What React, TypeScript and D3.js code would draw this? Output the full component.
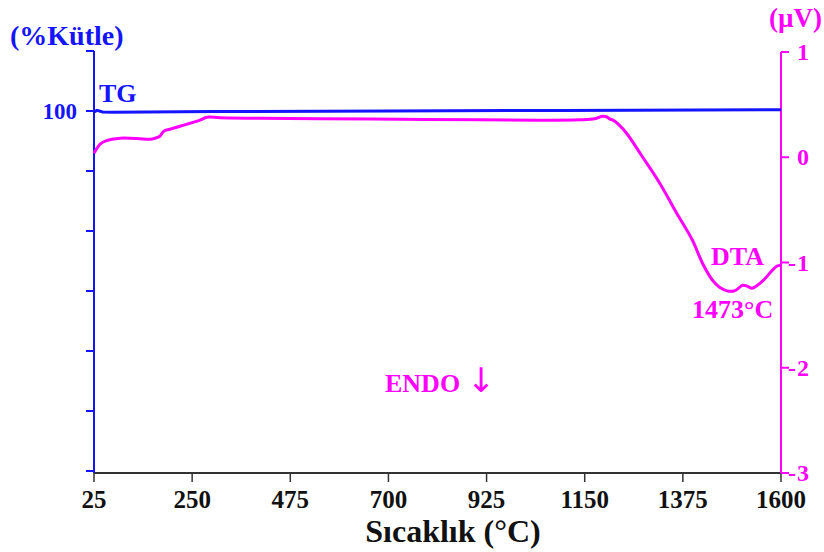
import React from "react";
import * as d3 from "d3";

const xTicks = [25, 250, 475, 700, 925, 1150, 1375, 1600];
const leftTicks = [88, 90, 92, 94, 96, 98, 100, 102];
const leftLabelled = [100];
const rightTicks = [1, 0, -1, -2, -3];

const tgTemp = [25, 32, 45, 70, 300, 700, 1100, 1600];
const tgMass = [99.97, 100.02, 99.97, 99.96, 99.98, 100.0, 100.02, 100.04];

const dtaTemp = [25, 32, 39, 50, 66, 85, 107, 130, 153, 165, 176, 185, 199, 222, 245, 268, 284, 314, 405, 543, 726, 909, 1047, 1139, 1173, 1191, 1200, 1207, 1216, 1228, 1246, 1283, 1322, 1361, 1397, 1420, 1443, 1459, 1480, 1496, 1512, 1523, 1533, 1546, 1562, 1578, 1590, 1599];
const dtaVal = [0.038, 0.086, 0.124, 0.152, 0.171, 0.181, 0.181, 0.176, 0.171, 0.181, 0.2, 0.247, 0.266, 0.295, 0.323, 0.352, 0.38, 0.375, 0.37, 0.366, 0.361, 0.356, 0.352, 0.356, 0.366, 0.39, 0.385, 0.365, 0.35, 0.31, 0.228, 0.0, -0.247, -0.532, -0.789, -1.007, -1.169, -1.235, -1.273, -1.264, -1.216, -1.226, -1.245, -1.216, -1.159, -1.083, -1.036, -1.026];

const BLUE = "#1414ff";
const MAG = "#ff00ff";
const FONT = "'Liberation Serif', 'Times New Roman', serif";

export default function App() {
  const x = d3.scaleLinear().domain([25, 1600]).range([94, 781]);
  const yL = d3.scaleLinear().domain([88, 102]).range([471, 51]);
  const yR = d3.scaleLinear().domain([-3, 1]).range([473, 52]);

  const tgLine = d3.line<number>().x((_, i) => x(tgTemp[i])).y((d) => yL(d)).curve(d3.curveLinear);
  const dtaLine = d3.line<number>().x((_, i) => x(dtaTemp[i])).y((d) => yR(d)).curve(d3.curveCatmullRom);

  const axisY = 473;
  return (
    <svg width={824} height={552} style={{ position: "absolute", left: 0, top: 0, background: "#fff" }} fontFamily={FONT} fontWeight="bold">
      {/* x axis */}
      <line x1={94} x2={781} y1={axisY} y2={axisY} stroke="#333" strokeWidth={2} />
      {xTicks.map((t) => (
        <g key={t}>
          <line x1={x(t)} x2={x(t)} y1={axisY} y2={axisY + 9} stroke="#333" strokeWidth={1.5} />
          <text x={x(t)} y={508} textAnchor="middle" fontSize={25} fill="#111">{t}</text>
        </g>
      ))}
      <text x={453} y={542} textAnchor="middle" fontSize={32} fill="#111">Sıcaklık (°C)</text>

      {/* left axis */}
      <line x1={94} x2={94} y1={51} y2={axisY} stroke={BLUE} strokeWidth={2} />
      {leftTicks.map((t) => (
        <line key={t} x1={86} x2={94} y1={yL(t)} y2={yL(t)} stroke={BLUE} strokeWidth={2} />
      ))}
      {leftLabelled.map((t) => (
        <text key={t} x={77} y={yL(t) + 8} textAnchor="end" fontSize={23} fill={BLUE}>{t}</text>
      ))}
      <text x={10} y={45} fontSize={28} fill={BLUE}>(%Kütle)</text>

      {/* right axis */}
      <line x1={781} x2={781} y1={52} y2={axisY} stroke={MAG} strokeWidth={2} />
      {rightTicks.map((t) => (
        <g key={t}>
          <line x1={781} x2={789} y1={yR(t)} y2={yR(t)} stroke={MAG} strokeWidth={2} />
          {t < 0 && <text x={788} y={yR(t) + 8} fontSize={24} fill={MAG}>-</text>}
          <text x={797} y={yR(t) + 8} fontSize={24} fill={MAG}>{Math.abs(t)}</text>
        </g>
      ))}
      <text x={822} y={27} textAnchor="end" fontSize={27} fill={MAG}>(µV)</text>

      {/* curves */}
      <path d={dtaLine(dtaVal) || ""} fill="none" stroke={MAG} strokeWidth={3} />
      <path d={tgLine(tgMass) || ""} fill="none" stroke={BLUE} strokeWidth={3} />

      {/* annotations */}
      <text x={99} y={102} fontSize={26} fill={BLUE}>TG</text>
      <text x={711} y={265} fontSize={26} fill={MAG}>DTA</text>
      <text x={692} y={318} fontSize={26} fill={MAG}>1473°C</text>
      <text x={385} y={392} fontSize={26} fill={MAG}>
        ENDO <tspan fontSize={34} fontWeight="normal" fontFamily="'DejaVu Sans', sans-serif">↓</tspan>
      </text>
    </svg>
  );
}
